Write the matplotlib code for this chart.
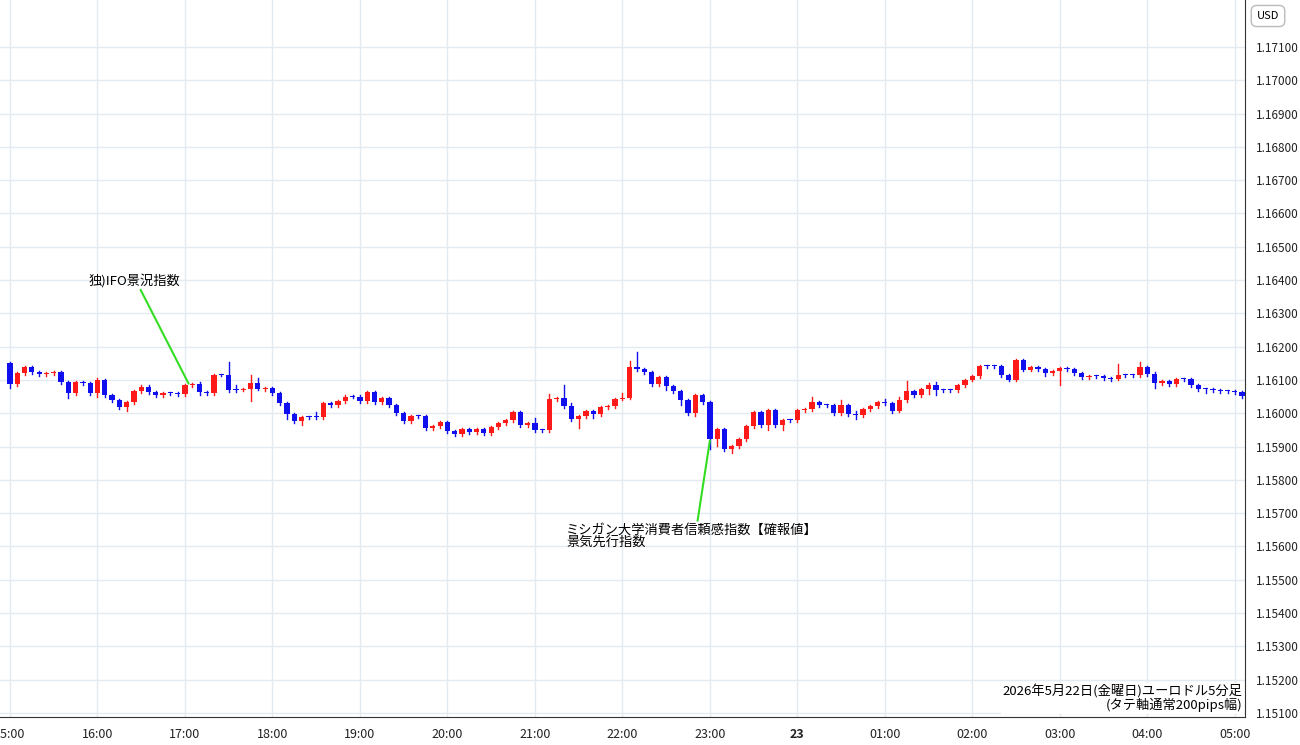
import matplotlib
matplotlib.use("Agg")
import matplotlib.pyplot as plt
from matplotlib.patches import Rectangle

plt.rcParams['font.family'] = ['Noto Sans CJK JP', 'DejaVu Sans']

base = 1.1600
pip = 0.0001
first_open = 15.0
closes = [8.7,12,13.8,12.3,11.7,12,12.3,9.3,6,9.3,9,6,10,5.4,3.9,1.8,3.3,6.6,8,6.3,5.4,6,6,5.7,8.4,8.7,6.3,6,11.4,11.4,
          7,7,7.2,9,7.2,7.5,6,3,-0.3,-2.4,-1.2,-1.2,-1.2,3,2.4,3.6,5,5,3.6,6.3,3.3,4.5,2.4,0,-2.4,-0.9,-0.9,-4.5,
          -3.9,-2.7,-5.4,-6.3,-4.8,-5.7,-4.8,-6,-4.2,-3,-2.1,0.3,-3.6,-3,-5.1,-5.1,4.2,4.5,2.1,-1.8,-0.9,0.6,-0.3,1.8,2.1,4.2,4.5,14,13.2,
          12.3,8.7,10.8,8.1,6.6,3.9,0,5.4,3.3,-7.8,-4.8,-10.8,-9.9,-7.8,-3.9,0.3,-3.6,0.9,-3.6,-2.1,-2.1,0.9,1.2,3.3,2.4,2.4,0,2.4,-0.3,
          -0.6,1.2,2.1,3.3,3,0.6,3.9,6.6,5.4,7.2,8.4,6.9,6.9,6.9,8.4,10,11.1,14.1,14.1,14.1,11.4,10,16,13,13.8,13.2,12,12.6,13.5,
          13.2,12,10.8,11.1,11.1,10.5,10.2,11.4,11.4,11.4,13.8,11.7,9,9.6,8.7,10.2,10.2,8.4,7.2,7.2,6.9,6.6,6.6,6.3,5.1]
# notable wick extensions in pips: index -> (up, down)
wicks = {0:(0.3,1.2),8:(0.5,1.5),12:(0.5,1.2),16:(0.3,1.0),26:(0.8,0.8),29:(0.5,0.3),30:(4.0,0.5),31:(1.5,0.5),
         33:(2.5,3.6),34:(1.5,0.3),38:(0.3,1.5),40:(0.5,1.0),42:(1.5,0.5),72:(1.5,0.5),74:(1.5,0.5),76:(4.0,0.5),77:(1.0,0.5),
         78:(0.5,2.5),80:(0.5,1.2),84:(1.5,0.3),85:(1.8,0.3),86:(4.5,0.5),90:(0.5,1.2),92:(0.5,1.5),94:(0.3,0.8),
         96:(0.3,3.0),97:(0.3,2.0),98:(0.3,0.5),99:(0.5,1.0),104:(0.5,1.5),106:(0.3,1.5),110:(1.5,0.5),
         114:(1.5,0.5),116:(1.0,1.0),120:(1.0,0.5),122:(1.0,0.3),123:(3.0,0.5),126:(0.8,1.5),127:(1.0,1.5),142:(0.5,0.8),
         144:(0.5,4.0),152:(3.5,0.3),155:(1.5,0.5),157:(0.8,1.5),160:(0.5,0.5),164:(0.3,1.2)}
xticks_labels = ['15:00','16:00','17:00','18:00','19:00','20:00','21:00','22:00','23:00','23',
                 '01:00','02:00','03:00','04:00','05:00']
yticks_vals = [round(1.151 + 0.001*i, 3) for i in range(21)]

W, H = 1300, 745
fig = plt.figure(figsize=(W/100, H/100), dpi=100)
ax = fig.add_axes([0, 28/H, 1245/W, 1-28/H])
up_c, dn_c = '#ff1a1a', '#1010ee'
prev = first_open
for i, c in enumerate(closes):
    o = prev
    u, d = wicks.get(i, (0.4, 0.4))
    hi = max(o, c) + u
    lo = min(o, c) - d
    col = up_c if c > o else dn_c
    ax.plot([i, i], [base + lo*pip, base + hi*pip], color=col, lw=1.0, zorder=3)
    bh = max(abs(c-o), 0.25)
    ax.add_patch(Rectangle((i-0.36, base + min(o, c)*pip), 0.72, bh*pip, color=col, zorder=4, lw=0))
    prev = c

ax.set_xlim(-1.37, 169.4)
ax.set_ylim(1.15088, 1.17241)
ax.set_xticks([12*k for k in range(len(xticks_labels))])
ax.set_xticklabels(xticks_labels, fontsize=9, color='#222')
for lbl in ax.get_xticklabels():
    if lbl.get_text() == '23':
        lbl.set_fontweight('bold')
ax.set_yticks(yticks_vals)
ax.yaxis.tick_right()
ax.set_yticklabels([f'{v:.5f}' for v in yticks_vals], fontsize=8.5, color='#222')
ax.tick_params(length=0, pad=8)
ax.grid(True, color='#e3eaf0', lw=1)
for s in ['top', 'left']:
    ax.spines[s].set_visible(False)
ax.spines['right'].set_color('#333')
ax.spines['bottom'].set_color('#333')

ax.annotate('独)IFO景況指数', xy=(24.5, base + 8.9*pip), xytext=(10.8, base + 40*pip),
            fontsize=9.5, ha='left', va='center',
            arrowprops=dict(arrowstyle='-', color='#33dd22', lw=1.5, shrinkA=0, shrinkB=0,
                            relpos=(0.55, 0)))
ax.annotate('ミシガン大学消費者信頼感指数【確報値】\n景気先行指数', xy=(96, base - 8.2*pip), xytext=(76.3, base - 37*pip),
            fontsize=9.5, ha='left', va='center', linespacing=1.0,
            arrowprops=dict(arrowstyle='-', color='#33dd22', lw=1.5, shrinkA=0, shrinkB=0,
                            relpos=(0.52, 1)))
ax.text(169.1, 1.15102, '2026年5月22日(金曜日)ユーロドル5分足\n(タテ軸通常200pips幅)', fontsize=9.5,
        ha='right', va='bottom', linespacing=1.0, bbox=dict(facecolor='white', edgecolor='none', pad=1), zorder=6)
fig.text(1268/W, 1-16/H, 'USD', fontsize=8, ha='center', va='center',
         bbox=dict(facecolor='white', edgecolor='#bbb', boxstyle='round,pad=0.5'))
fig.savefig('out.png', dpi=100)
